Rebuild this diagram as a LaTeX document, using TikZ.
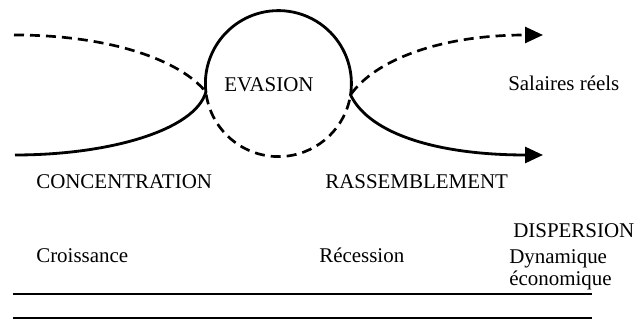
\documentclass[tikz,border=0pt]{standalone}
\usepackage{fontspec}
\setmainfont{Liberation Serif}
\usepackage{tikz}
\usetikzlibrary{arrows.meta, calc}

\tikzset{
    lbl/.style={anchor=base west, inner sep=0pt, align=left, font=\fontsize{14.9}{16.3}\selectfont},
    trait/.style={line width=2pt},
    tirets/.style={line width=1.9pt, dash pattern=on 0.25cm off 0.15cm},
    fleche/.style={-{Triangle[length=0.45cm,width=0.4cm]}}
}

\begin{document}
\begin{tikzpicture}
        \useasboundingbox (0,0) rectangle (15.9,8);
        \coordinate (centre) at (6.96,5.91);
        \coordinate (gauche) at ($(centre)+(186.6:1.825)$);

        \draw[trait, fleche] (0.375,4.125) .. controls (2.75,4.125) and (4.875,4.75) .. (gauche)
            arc[start angle=186.6, end angle=-8.9, radius=1.825]
            .. controls (9.25,4.625) and (11.0,4.125) .. (13.575,4.125);
        \draw[tirets, fleche] (0.35,7.125) .. controls (2.75,7.125) and (4.5,6.5) .. (gauche)
            arc[start angle=186.6, end angle=351.1, radius=1.825]
            .. controls (9.375,6.5) and (11.0,7.125) .. (13.575,7.125);

        \node[lbl] (evasion) at (5.6,5.7) {EVASION};
        \node[lbl] (salaires) at (12.7,5.725) {Salaires réels};
        \node[lbl] (concentration) at (0.9,3.275) {CONCENTRATION};
        \node[lbl] (rassemblement) at (8.125,3.275) {RASSEMBLEMENT};
        \node[lbl] (dispersion) at (12.825,2.05) {DISPERSION};
        \node[lbl] (croissance) at (0.9,1.425) {Croissance};
        \node[lbl] (recession) at (7.975,1.425) {Récession};
        \node[lbl] (dynamique) at (12.725,0.85) {Dynamique\\économique};

        \draw[trait] (0.325,0.65) -- (14.8,0.65) (0.325,0.05) -- (14.8,0.05);
    \end{tikzpicture}
\end{document}
